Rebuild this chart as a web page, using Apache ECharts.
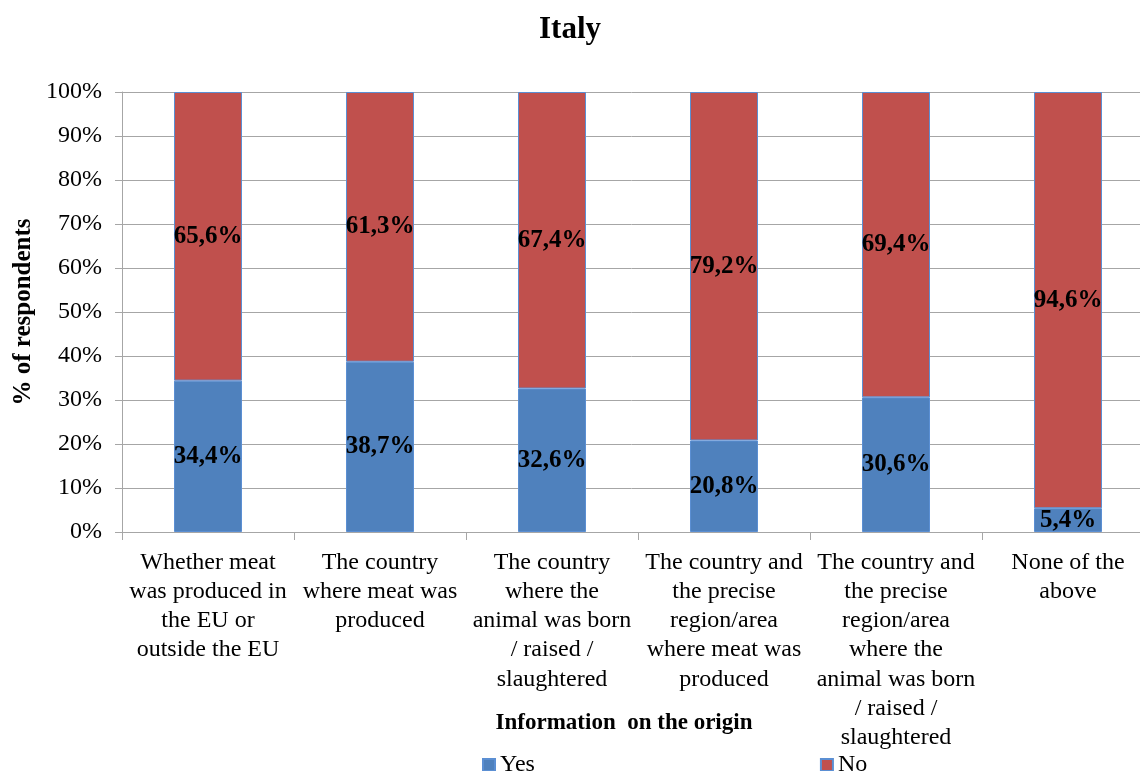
<!DOCTYPE html>
<html><head><meta charset="utf-8">
<script src="https://cdn.jsdelivr.net/npm/echarts@6/dist/echarts.min.js"></script>
<style>html,body{margin:0;padding:0;background:#fff}#c{width:1140px;height:771px}</style>
</head><body><div id="c"></div>
<script>
const categories = [
  "Whether meat\nwas produced in\nthe EU or\noutside the EU",
  "The country\nwhere meat was\nproduced",
  "The country\nwhere the\nanimal was born\n/ raised /\nslaughtered",
  "The country and\nthe precise\nregion/area\nwhere meat was\nproduced",
  "The country and\nthe precise\nregion/area\nwhere the\nanimal was born\n/ raised /\nslaughtered",
  "None of the\nabove"
];
const yesValues = [34.4, 38.7, 32.6, 20.8, 30.6, 5.4];
const noValues = [65.6, 61.3, 67.4, 79.2, 69.4, 94.6];
const seriesNames = ["Yes", "No"];

const serif = "'Liberation Serif','Times New Roman',serif";
const fmt = p => p.value.toFixed(1).replace('.', ',') + '%';
const chart = echarts.init(document.getElementById('c'), null, {renderer: 'canvas'});
chart.setOption({
  animation: false,
  title: {text: 'Italy', left: 'center', top: 9, textStyle: {fontFamily: serif, fontSize: 31, fontWeight: 'bold', color: '#000'}},
  legend: {
    top: 748, left: 477, itemGap: 285, itemWidth: 12, itemHeight: 12, icon: 'rect',
    textStyle: {fontFamily: serif, fontSize: 24, color: '#000', padding: [4,0,0,0]},
    data: seriesNames
  },
  grid: {left: 122, right: -14, top: 92, bottom: 239, outerBoundsMode: 'none', containLabel: false},
  xAxis: {
    type: 'category', data: categories,
    name: 'Information  on the origin', nameLocation: 'middle', nameGap: 180, nameMoveOverlap: false,
    nameTextStyle: {fontFamily: serif, fontSize: 23, fontWeight: 'bold', color: '#000', padding: [0,28,0,0]},
    axisLine: {lineStyle: {color: '#a6a6a6'}},
    axisTick: {show: true, length: 8, lineStyle: {color: '#a6a6a6'}},
    axisLabel: {fontFamily: serif, fontSize: 24, color: '#000', lineHeight: 29.2, margin: 16, interval: 0, hideOverlap: false}
  },
  yAxis: {
    type: 'value', min: 0, max: 100, interval: 10,
    name: '% of respondents', nameLocation: 'middle', nameGap: 86, nameRotate: 90, nameMoveOverlap: false,
    nameTextStyle: {fontFamily: serif, fontSize: 25, fontWeight: 'bold', color: '#000'},
    axisLine: {show: true, lineStyle: {color: '#a6a6a6'}},
    axisTick: {show: true, length: 7, lineStyle: {color: '#a6a6a6'}},
    splitLine: {lineStyle: {color: '#a6a6a6'}},
    axisLabel: {fontFamily: serif, fontSize: 24, color: '#000', margin: 20, formatter: '{value}%'}
  },
  series: [
    {name: seriesNames[0], type: 'bar', stack: 's', data: yesValues, barWidth: 68,
     itemStyle: {color: '#4F81BD', borderColor: '#5B8FD3', borderWidth: 1},
     label: {show: true, position: 'inside', formatter: fmt, fontFamily: serif, fontSize: 25, fontWeight: 'bold', color: '#000'}},
    {name: seriesNames[1], type: 'bar', stack: 's', data: noValues, barWidth: 68,
     itemStyle: {color: '#C0504D', borderColor: '#5B8FD3', borderWidth: 1},
     label: {show: true, position: 'inside', formatter: fmt, fontFamily: serif, fontSize: 25, fontWeight: 'bold', color: '#000'}}
  ]
});
</script></body></html>
